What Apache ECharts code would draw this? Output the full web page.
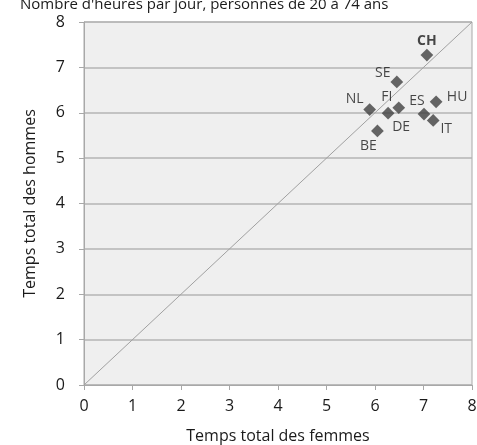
<!DOCTYPE html>
<html><head><meta charset="utf-8">
<script src="https://cdn.jsdelivr.net/npm/echarts@6/dist/echarts.min.js"></script>
<style>html,body{margin:0;padding:0;background:#fff}#c{width:477px;height:445px}</style>
</head><body><div id="c"></div>
<script>
var countries = ['CH','SE','NL','FI','DE','ES','IT','HU','BE'];
var femmes = [7.07, 6.45, 5.89, 6.49, 6.27, 7.01, 7.20, 7.26, 6.05];
var hommes = [7.27, 6.68, 6.07, 6.11, 5.99, 5.97, 5.83, 6.24, 5.60];
var diagonal = [[0,0],[8,8]];
var axisTicks = [0,1,2,3,4,5,6,7,8];
var labelOffsets = {CH:[0,-14],SE:[-14,-9],NL:[-15,-11],FI:[-12,-11],DE:[13,14],ES:[-7,-13],IT:[13,9],HU:[21,-5],BE:[-9,15]};
var FONT = 'Open Sans';
var pts = countries.map(function(c,i){
  return {value:[femmes[i],hommes[i]], name:c, label:{offset:labelOffsets[c], fontWeight: c==='CH'?'bold':'normal'}};
});
var chart = echarts.init(document.getElementById('c'), null, {renderer:'canvas'});
chart.setOption({
  animation:false,
  textStyle:{fontFamily:FONT},
  title:{text:"Nombre d'heures par jour, personnes de 20 à 74 ans", left:15, top:-8,
    textStyle:{fontSize:15, fontWeight:'normal', color:'#1a1a1a', fontFamily:FONT}},
  grid:{left:84, right:5, top:22, bottom:60, outerBoundsMode:'none', containLabel:false, show:true, backgroundColor:'#efefef', borderColor:'#a8a8a8', borderWidth:1},
  xAxis:{type:'value', min:axisTicks[0], max:axisTicks[axisTicks.length-1], interval:1,
    name:'Temps total des femmes', nameLocation:'middle', nameGap:43,
    nameTextStyle:{fontSize:16,color:'#1a1a1a',fontFamily:FONT},
    axisLine:{show:true,lineStyle:{color:'#a8a8a8'}}, axisTick:{show:true,length:5,lineStyle:{color:'#a8a8a8'}},
    axisLabel:{fontSize:16,color:'#1a1a1a',margin:13,fontFamily:FONT}, splitLine:{show:false}},
  yAxis:{type:'value', min:axisTicks[0], max:axisTicks[axisTicks.length-1], interval:1,
    name:'Temps total des hommes', nameLocation:'middle', nameGap:46,
    nameTextStyle:{fontSize:16,color:'#1a1a1a',fontFamily:FONT},
    axisLine:{show:true,lineStyle:{color:'#a8a8a8'}}, axisTick:{show:true,length:5,lineStyle:{color:'#a8a8a8'}},
    axisLabel:{fontSize:16,color:'#1a1a1a',margin:19,fontFamily:FONT},
    splitLine:{show:true,lineStyle:{color:'#b4b4b4',width:1.5}}},
  series:[
    {type:'line', data:diagonal, symbol:'none', lineStyle:{color:'#a0a0a0',width:1}, silent:true, z:1},
    {type:'scatter', data:pts, symbol:'rect', symbolSize:9, symbolRotate:45,
      itemStyle:{color:'#404040'}, z:3,
      label:{show:true, position:'inside', formatter:'{b}', fontSize:14, color:'#1a1a1a', fontFamily:FONT, align:'center', verticalAlign:'middle'}}
  ]
});
</script></body></html>
